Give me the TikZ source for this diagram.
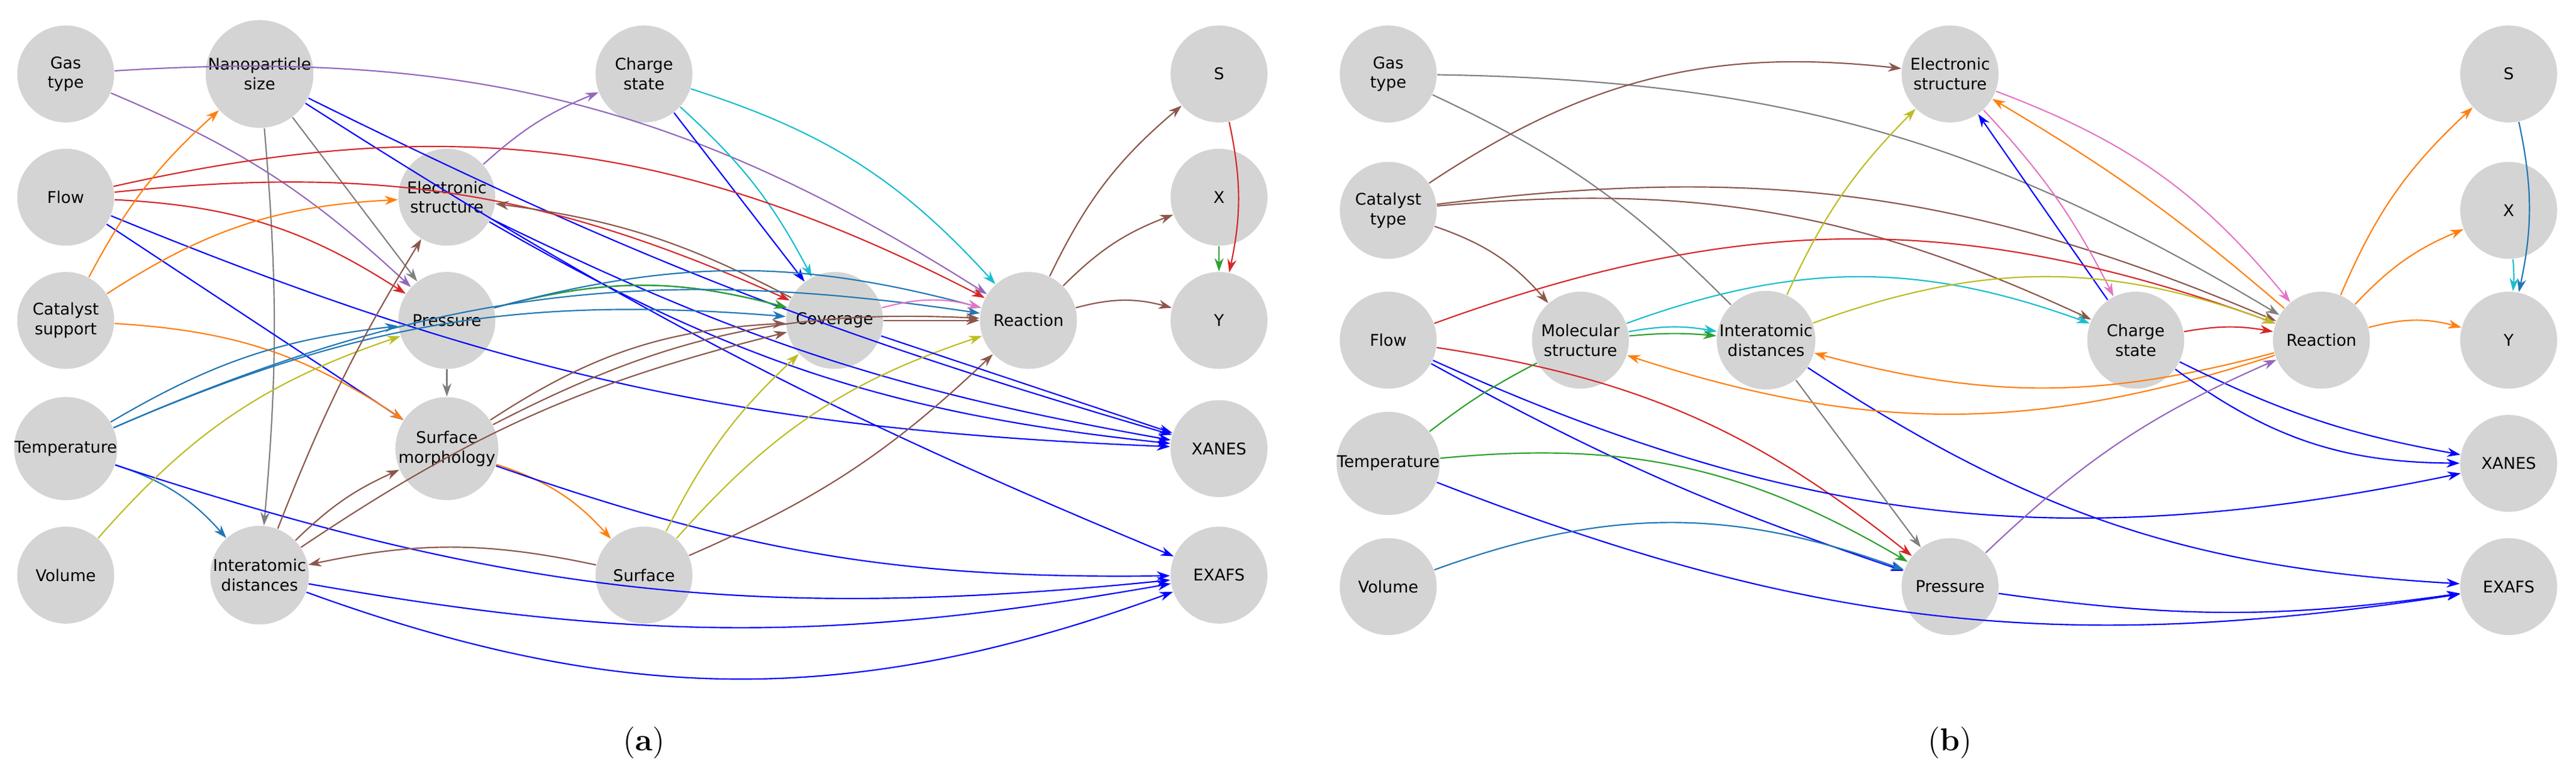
\documentclass[tikz,border=0pt]{standalone}
\usepackage{fontspec}
\setsansfont{DejaVu Sans}
\usetikzlibrary{arrows.meta}
\definecolor{cpur}{HTML}{9467BD}
\definecolor{cgry}{HTML}{7F7F7F}
\definecolor{cblu}{HTML}{0000FF}
\definecolor{ccyn}{HTML}{17BECF}
\definecolor{cred}{HTML}{D62728}
\definecolor{corg}{HTML}{FF7F0E}
\definecolor{cstl}{HTML}{1F77B4}
\definecolor{cgrn}{HTML}{2CA02C}
\definecolor{coli}{HTML}{BCBD22}
\definecolor{cbrn}{HTML}{8C564B}
\definecolor{cpnk}{HTML}{E377C2}
\tikzset{
  var/.style={circle,fill=black!17,minimum size=11.8mm,inner sep=0pt,align=center,
    font=\sffamily\fontsize{5.6}{6.8}\selectfont},
  e/.style={-{Stealth[length=1.6mm,width=1.1mm]},line width=0.45pt},
  sublabel/.style={font=\rmfamily\fontsize{11}{13}\selectfont},
}
\begin{document}
\begin{tikzpicture}[x=0.2mm,y=-0.2mm]
\useasboundingbox (0,0) rectangle (1568,475);
% (a)
\node[var] (ag) at (40,45) {Gas\\type};
\node[var] (an) at (158,45) {Nanoparticle\\size};
\node[var] (ac) at (392,45) {Charge\\state};
\node[var] (as) at (742,45) {S};
\node[var] (af) at (40,120) {Flow};
\node[var] (ae) at (272,120) {Electronic\\structure};
\node[var] (ax) at (742,120) {X};
\node[var] (acs) at (40,195) {Catalyst\\support};
\node[var] (ap) at (272,195) {Pressure};
\node[var] (acv) at (508,195) {Coverage};
\node[var] (ar) at (626,195) {Reaction};
\node[var] (ay) at (742,195) {Y};
\node[var] (at) at (40,273) {Temperature};
\node[var] (am) at (272,273) {Surface\\morphology};
\node[var] (axa) at (742,273) {XANES};
\node[var] (av) at (40,350) {Volume};
\node[var] (ai) at (158,350) {Interatomic\\distances};
\node[var] (asu) at (392,350) {Surface};
\node[var] (aex) at (742,350) {EXAFS};
\node[sublabel] (la) at (392,452) {(\textbf{a})};

\draw[e,cpur,bend left=18] (ag) to (ar);
\draw[e,cpur,bend left=10] (ag) to (ap);
\draw[e,cgry,bend left=5] (an) to (ai);
\draw[e,cgry] (an) to (ap);
\draw[e,cblu,bend right=5] (an) to (axa);
\draw[e,cblu,bend right=5] (an) to (aex);
\draw[e,cblu] (ac) to (acv);
\draw[e,ccyn,bend left=10] (ac) to (acv);
\draw[e,ccyn,bend left=15] (ac) to (ar);
\draw[e,cred,bend left=20] (af) to (ar);
\draw[e,cred,bend left=15] (af) to (acv);
\draw[e,cred,bend left=15] (af) to (ap);
\draw[e,cblu] (af) to (am);
\draw[e,cblu,bend right=10] (af) to (axa);
\draw[e,cpur,bend left=10] (ae) to (ac);
\draw[e,cblu,bend right=8] (ae) to (axa);
\draw[e,cblu,bend right=12] (ae) to (axa);
\draw[e,cbrn,bend right=10] (acv) to (ae);
\draw[e,corg,bend left=10] (acs) to (an);
\draw[e,corg,bend left=15] (acs) to (ae);
\draw[e,corg,bend left=15] (acs) to (am);
\draw[e,cstl,bend left=15] (ap) to (acv);
\draw[e,cgrn,bend left=15] (ap) to (acv);
\draw[e,cstl,bend left=15] (ap) to (ar);
\draw[e,cgry] (ap) to (am);
\draw[e,cstl,bend left=12] (at) to (ap);
\draw[e,cstl,bend left=14] (at) to (acv);
\draw[e,cstl,bend left=16] (at) to (ar);
\draw[e,cstl,bend left=15] (at) to (ai);
\draw[e,cblu,bend right=12] (at) to (aex);
\draw[e,coli,bend left=15] (av) to (ap);
\draw[e,cbrn,bend left=15] (am) to (acv);
\draw[e,cbrn,bend left=15] (am) to (ar);
\draw[e,corg,bend left=15] (am) to (asu);
\draw[e,cblu,bend right=10] (am) to (aex);
\draw[e,cbrn,bend left=5] (ai) to (ae);
\draw[e,cbrn,bend left=10] (ai) to (acv);
\draw[e,cbrn,bend left=10] (ai) to (am);
\draw[e,cblu,bend right=10] (ai) to (aex);
\draw[e,cblu,bend right=20] (ai) to (aex);
\draw[e,cbrn,bend right=12] (asu) to (ai);
\draw[e,coli,bend left=10] (asu) to (acv);
\draw[e,coli,bend left=15] (asu) to (ar);
\draw[e,cbrn,bend right=10] (asu) to (ar);
\draw[e,cpnk,bend left=15] (acv) to (ar);
\draw[e,cbrn] (acv) to (ar);
\draw[e,cblu] (acv) to (axa);
\draw[e,cbrn,bend left=12] (ar) to (as);
\draw[e,cbrn,bend left=12] (ar) to (ax);
\draw[e,cbrn,bend left=15] (ar) to (ay);
\draw[e,cred,bend left=12] (as) to (ay);
\draw[e,cgrn] (ax) to (ay);

% (b)
\node[var] (bg) at (845,45) {Gas\\type};
\node[var] (be) at (1187,45) {Electronic\\structure};
\node[var] (bs) at (1527,45) {S};
\node[var] (bct) at (845,128) {Catalyst\\type};
\node[var] (bx) at (1527,128) {X};
\node[var] (bf) at (845,207) {Flow};
\node[var] (bm) at (962,207) {Molecular\\structure};
\node[var] (bi) at (1075,207) {Interatomic\\distances};
\node[var] (bc) at (1300,207) {Charge\\state};
\node[var] (br) at (1413,207) {Reaction};
\node[var] (by) at (1527,207) {Y};
\node[var] (bt) at (845,282) {Temperature};
\node[var] (bxa) at (1527,282) {XANES};
\node[var] (bv) at (845,357) {Volume};
\node[var] (bp) at (1187,357) {Pressure};
\node[var] (bex) at (1527,357) {EXAFS};
\node[sublabel] (lb) at (1187,452) {(\textbf{b})};

\draw[e,cgry,bend left=15] (bg) to (br);
\draw[-,line width=0.45pt,cgry,bend left=10] (bg) to (bi);
\draw[e,cbrn,bend left=20] (bct) to (be);
\draw[e,cbrn,bend left=15] (bct) to (br);
\draw[e,cbrn,bend left=15] (bct) to (bc);
\draw[e,cbrn,bend left=15] (bct) to (bm);
\draw[e,cpnk,bend left=15] (be) to (br);
\draw[e,cpnk,bend left=8] (be) to (bc);
\draw[e,cblu] (bc) to (be);
\draw[e,corg,bend right=5] (br) to (be);
\draw[e,cred,bend left=20] (bf) to (br);
\draw[e,cred,bend left=15] (bf) to (bp);
\draw[e,cblu,bend right=5] (bf) to (bp);
\draw[e,cblu,bend right=18] (bf) to (bxa);
\draw[e,ccyn,bend left=10] (bm) to (bi);
\draw[e,ccyn,bend left=20] (bm) to (bc);
\draw[e,cgrn,bend left=5] (bm) to (bi);
\draw[-,line width=0.45pt,cgrn,bend left=5] (bt) to (bm);
\draw[e,cgrn,bend left=18] (bt) to (bp);
\draw[e,cblu,bend right=15] (bt) to (bex);
\draw[e,cstl,bend left=20] (bv) to (bp);
\draw[e,coli,bend left=10] (bi) to (be);
\draw[e,coli,bend left=20] (bi) to (br);
\draw[e,cgry] (bi) to (bp);
\draw[e,cblu,bend right=15] (bi) to (bex);
\draw[e,corg,bend left=15] (br) to (bi);
\draw[e,corg,bend left=18] (br) to (bm);
\draw[e,corg,bend left=12] (br) to (bs);
\draw[e,corg,bend left=12] (br) to (bx);
\draw[e,corg,bend left=15] (br) to (by);
\draw[e,cred,bend left=10] (bc) to (br);
\draw[e,cblu,bend right=8] (bc) to (bxa);
\draw[e,cblu,bend right=18] (bc) to (bxa);
\draw[e,cpur,bend left=10] (bp) to (br);
\draw[e,cblu,bend right=8] (bp) to (bex);
\draw[e,cstl,bend left=12] (bs) to (by);
\draw[e,ccyn,bend left=5] (bx) to (by);
\end{tikzpicture}
\end{document}
